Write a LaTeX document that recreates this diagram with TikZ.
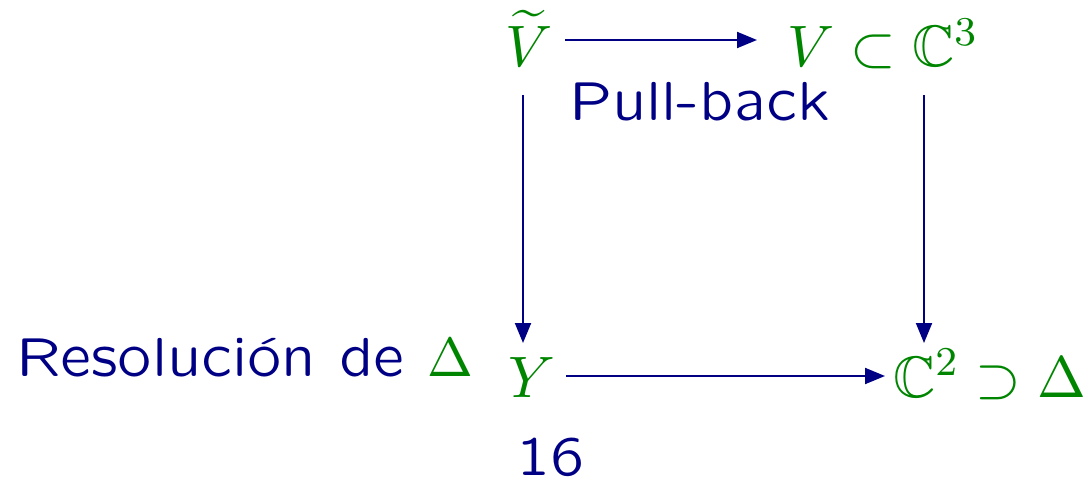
\documentclass[tikz,border=0pt]{standalone}
\usepackage{fix-cm}
\usepackage{amssymb}
\usetikzlibrary{arrows.meta}
\DeclareFontFamily{U}{msb}{}
\DeclareFontShape{U}{msb}{m}{n}{<-> msbm10}{}
\DeclareFontFamily{OT1}{mylcmss}{}
\DeclareFontShape{OT1}{mylcmss}{m}{n}{<-> lcmss8}{}
\definecolor{navy}{rgb}{0,0,0.52}
\definecolor{grn}{rgb}{0,0.52,0}
\newcommand{\slsans}{\fontencoding{OT1}\fontfamily{mylcmss}\fontseries{m}\fontshape{n}\selectfont}
\tikzset{
  lbl/.style={inner sep=0pt, anchor=base west, text=navy, font=\fontsize{11.0}{13}\slsans},
  mth/.style={inner sep=0pt, anchor=base west, text=grn, font=\fontsize{11.7}{13}\selectfont},
  arr/.style={draw=navy, line width=0.4pt, -{Triangle[length=4pt,width=3.2pt]}}
}
\begin{document}
\begin{tikzpicture}[x=0.2pt,y=-0.2pt]
\useasboundingbox (0,0) rectangle (1091,478);
\node[mth] (Vt) at (504,67) {$\widetilde{V}$};
\node[mth] (V) at (786,67) {$V\subset\mathbb{C}^3$};
\node[lbl] (pb) at (568,121) {Pull-back};
\node[mth] (Y) at (507,397) {$Y$};
\node[mth] (C) at (892,397) {$\mathbb{C}^2\supset\Delta$};
\node[lbl] (res) at (15,376) {Resoluci\'on de \textcolor{grn}{$\Delta$}};
\node[lbl] (n) at (515,475) {16};
\draw[arr] ([shift={(61,-27)}]Vt.base west) -- ([shift={(-29,-27)}]V.base west);
\draw[arr] ([shift={(19,28)}]Vt.base west) -- ([shift={(16,-54)}]Y.base west);
\draw[arr] ([shift={(138,28)}]V.base west) -- ([shift={(32,-54)}]C.base west);
\draw[arr] ([shift={(59,-21)}]Y.base west) -- ([shift={(-7,-21)}]C.base west);
\end{tikzpicture}
\end{document}
